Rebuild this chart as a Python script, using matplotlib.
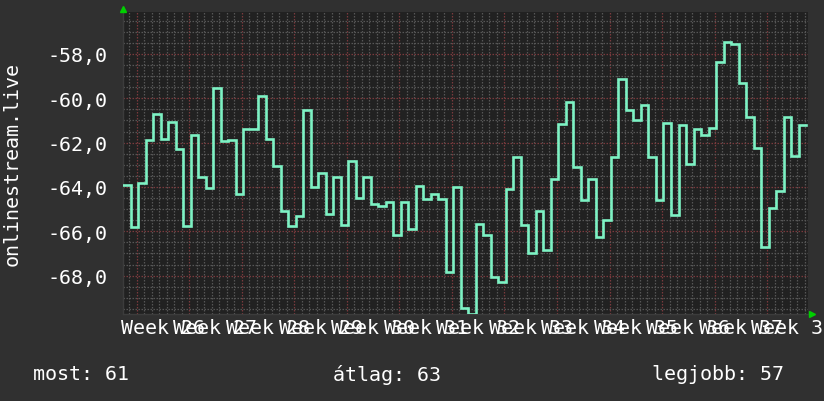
import numpy as np
import matplotlib
matplotlib.use("Agg")
import matplotlib.pyplot as plt
from matplotlib.transforms import blended_transform_factory

# ---- data ----
values = [
    -63.9, -65.8, -63.8, -61.9, -60.7, -61.85, -61.05, -62.3, -65.75, -61.65,
    -63.55, -64.05, -59.55, -61.95, -61.9, -64.3, -61.4, -61.4, -59.9, -61.85,
    -63.05, -65.1, -65.75, -65.3, -60.55, -64.0, -63.35, -65.2, -63.55, -65.7,
    -62.85, -64.5, -63.55, -64.75, -64.85, -64.7, -66.15, -64.7, -65.9, -63.95,
    -64.55, -64.3, -64.55, -67.85, -64.0, -69.45, -69.73, -65.65, -66.15, -68.05,
    -68.3, -64.1, -62.65, -65.7, -67.0, -65.1, -66.85, -63.65, -61.15, -60.15,
    -63.1, -64.6, -63.65, -66.25, -65.5, -62.65, -59.15, -60.55, -61.0, -60.3,
    -62.65, -64.6, -61.1, -65.25, -61.2, -62.95, -61.4, -61.65, -61.35, -58.35,
    -57.45, -57.55, -59.3, -60.85, -62.25, -66.7, -64.95, -64.2, -60.85, -62.6,
    -61.2,
]
week_labels = ["Week %d" % w for w in range(26, 39)]
y_ticks = [-58, -60, -62, -64, -66, -68]
y_label = "onlinestream.live"
summary_names = ["most", "átlag", "legjobb"]
summary_values = [61, 63, 57]

# ---- style ----
FIG_BG = "#303030"
AX_BG = "#212121"
LINE = "#7df2c4"
MINOR = "#565656"
MAJOR = "#7a3a3d"
FONT = "DejaVu Sans Mono"
FS = 14.4

W, H = 824, 402
fig = plt.figure(figsize=(W / 100, H / 100), dpi=100, facecolor=FIG_BG)
L, R, T, B = 123, 808, 13, 315
ax = fig.add_axes([L / W, 1 - B / H, (R - L) / W, (B - T) / H], facecolor=AX_BG)

n = len(values)
x_edges = np.arange(n + 1)
y_ext = values + [values[-1]]
ax.step(x_edges, y_ext, where="post", color=LINE, lw=1.9, zorder=5,
        solid_joinstyle="miter")

x_max = 91.25
ax.set_xlim(0, x_max)
ax.set_ylim(-69.73, -56.11)

week_offset = 1.81
major_x = week_offset + 7 * np.arange(13)
minor_x = np.arange(week_offset - 1, x_max, 1.0)
ax.set_xticks(major_x)
ax.set_xticks(minor_x, minor=True)
ax.set_yticks(y_ticks)
ax.set_yticks(np.arange(-69.5, -56.0, 0.5), minor=True)

ax.grid(which="minor", color=MINOR, lw=0.9, ls=(0, (1.2, 1.2)), zorder=1)
ax.grid(which="major", color=MAJOR, lw=0.9, ls=(0, (1.2, 1.2)), zorder=2)
ax.set_axisbelow(True)

ax.tick_params(axis="both", which="both", length=0)
ax.tick_params(axis="x", labelbottom=False)
ax.tick_params(axis="y", pad=11.5)
ax.set_yticklabels([("%.1f" % v).replace(".", ",") for v in y_ticks],
                   fontfamily=FONT, fontsize=FS, color="white")

for s in ["top", "right"]:
    ax.spines[s].set_visible(False)
for s in ["left", "bottom"]:
    ax.spines[s].set_color("#3c3c3c")
    ax.spines[s].set_linewidth(1.0)

# week labels centered in each week
trans = blended_transform_factory(ax.transData, ax.transAxes)
for i, lab in enumerate(week_labels):
    xc = week_offset + 3.5 + 7 * i
    ax.text(xc, -14 / (B - T), lab, transform=trans, ha="center", va="center",
            fontfamily=FONT, fontsize=FS, color="white", clip_on=False)

# arrows
ax.plot([0], [1 + 3 / (B - T)], marker="^", color="#00d000", ms=5,
        transform=ax.transAxes, clip_on=False, zorder=10)
ax.plot([1 + 4 / (R - L)], [0], marker=">", color="#00d000", ms=5,
        transform=ax.transAxes, clip_on=False, zorder=10)

# y label
fig.text(12 / W, 1 - (T + B) / 2 / H, y_label, rotation=90, ha="center",
         va="center", fontfamily=FONT, fontsize=FS, color="white")

# summary
sx = [33, 333, 652]
for x0, nm, v in zip(sx, summary_names, summary_values):
    fig.text(x0 / W, 1 - 375 / H, "%s: %d" % (nm, v), ha="left", va="center",
             fontfamily=FONT, fontsize=FS, color="white")

fig.savefig("out.png", dpi=100, facecolor=FIG_BG)
